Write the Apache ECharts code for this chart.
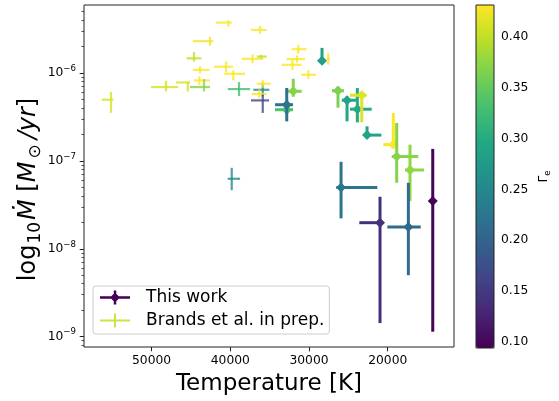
<!DOCTYPE html>
<html>
<head>
<meta charset="utf-8">
<script src="https://cdn.jsdelivr.net/npm/echarts@6/dist/echarts.min.js"></script>
<style>
  html, body { margin: 0; padding: 0; background: #fff; }
  #chart { width: 559px; height: 401px; }
</style>
</head>
<body>
<div id="chart"></div>
<script>
// ---- This work: temperature [K], log10 mass-loss rate [Msun/yr], Eddington factor Gamma_e
const workTemp       = [28350, 32000, 32830, 32830, 26320, 25170, 23860, 23300, 22630, 19290, 18860, 17170, 25930, 20980, 17380, 14280];
const workTempErrCool = [300, 1070, 800, 800, 760, 1230, 1830, 635, 1820, 635, 2745, 1780, 4610, 0, 1575, 150];
const workTempErrHot  = [300, 1000, 1490, 1490, 760, 670, 930, 1490, 100, 1270, 635, 635, 600, 2630, 2670, 150];
const workLogMdot    = [-5.860, -6.207, -6.417, -6.360, -6.201, -6.309, -6.411, -6.252, -6.706, -6.814, -6.950, -7.103, -7.302, -7.703, -7.753, -7.457];
const workLogErrLow  = [0.025, 0.062, 0.04, 0.19, 0.193, 0.24, 0.15, 0.309, 0.028, 0.038, 0.299, 0.354, 0.352, 1.143, 0.548, 1.487];
const workLogErrHigh = [0.147, 0.142, 0.04, 0.19, 0.049, 0.043, 0.241, 0.02, 0.10, 0.36, 0.382, 0.289, 0.292, 0.295, 0.504, 0.594];
const workGamma      = [0.285, 0.37, 0.335, 0.222, 0.365, 0.29, 0.30, 0.415, 0.29, 0.43, 0.37, 0.375, 0.225, 0.14, 0.21, 0.097];

// ---- Brands et al. (in prep.)
const brandsTemp       = [40250, 36230, 42580, 44610, 40550, 43850, 39620, 37180, 36100, 43940, 43340, 48170, 45410, 55160, 38890, 35880, 35880, 36320, 35880, 39820, 31360, 31530, 32100, 30090, 27550];
const brandsTempErrCool = [430, 850, 420, 950, 890, 1180, 1490, 1370, 730, 1360, 760, 1560, 290, 290, 1400, 840, 1020, 940, 800, 1060, 1065, 1020, 1160, 970, 200];
const brandsTempErrHot  = [1560, 1140, 2200, 950, 1525, 930, 1140, 1370, 540, 675, 1780, 1905, 1490, 1180, 1435, 1195, 760, 965, 1495, 510, 840, 1310, 1380, 935, 200];
const brandsLogMdot    = [-5.426, -5.508, -5.637, -5.832, -5.928, -5.963, -6.008, -5.838, -5.812, -6.084, -6.159, -6.159, -6.107, -6.303, -6.182, -6.190, -6.121, -6.238, -6.311, -7.203, -5.728, -5.841, -5.906, -6.019, -5.838];
const brandsLogErrLow  = [0.045, 0.046, 0.05, 0.036, 0.065, 0.04, 0.076, 0.05, 0.02, 0.05, 0.05, 0.05, 0.103, 0.15, 0.08, 0.075, 0.045, 0.05, 0.143, 0.13, 0.05, 0.04, 0.06, 0.05, 0.065];
const brandsLogErrHigh = [0.03, 0.046, 0.05, 0.07, 0.06, 0.04, 0.04, 0.05, 0.02, 0.045, 0.09, 0.07, 0.01, 0.09, 0.08, 0.075, 0.045, 0.05, 0.065, 0.125, 0.05, 0.04, 0.06, 0.05, 0.065];
const brandsGamma      = [0.43, 0.43, 0.425, 0.40, 0.43, 0.43, 0.43, 0.43, 0.40, 0.43, 0.37, 0.41, 0.41, 0.41, 0.33, 0.26, 0.43, 0.43, 0.165, 0.255, 0.43, 0.43, 0.43, 0.43, 0.43];

// ---- axes and colour bar
const tempTicks = [20000, 30000, 40000, 50000];
const logMajorTicks = [-9, -8, -7, -6];
const gammaTicks = [0.10, 0.15, 0.20, 0.25, 0.30, 0.35, 0.40];
const tempRange = [11580, 58590];
const logRange = [-9.118, -5.225];
const gammaRange = [0.0935, 0.4318];
const viridis = ['#440154', '#482475', '#414487', '#355f8d', '#2a788e', '#21918c',
                 '#22a884', '#44bf70', '#7ad151', '#bddf26', '#fde725'];

// minor ticks of a base-10 log axis (2..9 x 10^n)
const logMinorTicks = [];
for (let n = -10; n <= -6; n++) {
  for (let k = 2; k <= 9; k++) {
    const v = n + Math.log10(k);
    if (v > logRange[0] && v < logRange[1]) logMinorTicks.push(v);
  }
}

function rows(temp, cool, hot, logm, lo, hi, gamma) {
  return temp.map((t, i) => [t, logm[i], cool[i], hot[i], lo[i], hi[i], gamma[i]]);
}

function errorbarRenderer(lineWidth, opacity, markerSize) {
  return function (params, api) {
    const t = api.value(0), l = api.value(1);
    const c = api.coord([t, l]);
    const xHot = api.coord([t + api.value(3), l])[0];
    const xCool = api.coord([t - api.value(2), l])[0];
    const yTop = api.coord([t, l + api.value(5)])[1];
    const yBot = api.coord([t, l - api.value(4)])[1];
    const color = api.visual('color');
    const ls = { stroke: color, lineWidth: lineWidth, opacity: opacity, lineCap: 'butt' };
    const children = [
      { type: 'line', shape: { x1: xHot, y1: c[1], x2: xCool, y2: c[1] }, style: ls },
      { type: 'line', shape: { x1: c[0], y1: yTop, x2: c[0], y2: yBot }, style: ls }
    ];
    if (markerSize) {
      const r = markerSize / 2;
      children.push({
        type: 'polygon',
        shape: { points: [[c[0], c[1] - r], [c[0] + r, c[1]], [c[0], c[1] + r], [c[0] - r, c[1]]] },
        style: { fill: color }
      });
    }
    return { type: 'group', children: children };
  };
}

const FONT = 'DejaVu Sans';
const chart = echarts.init(document.getElementById('chart'), null, { renderer: 'canvas' });

chart.setOption({
  animation: false,
  backgroundColor: '#fff',
  textStyle: { fontFamily: FONT },
  grid: [
    { left: 84, top: 5, width: 370, height: 343, show: true, borderColor: '#222', borderWidth: 1, backgroundColor: 'transparent' },
    { left: 476, top: 5, width: 18, height: 343, show: true, borderColor: '#222', borderWidth: 1, backgroundColor: 'transparent', z: 10 }
  ],
  xAxis: [
    {
      type: 'value', gridIndex: 0, inverse: true, min: tempRange[0], max: tempRange[1],
      axisLine: { show: false }, splitLine: { show: false },
      axisTick: { show: true, length: 4.3, lineStyle: { color: '#222', width: 1 }, customValues: tempTicks },
      axisLabel: { customValues: tempTicks, formatter: v => String(v), fontSize: 12.3, color: '#000', fontFamily: FONT, margin: 8 },
      name: 'Temperature [K]', nameLocation: 'middle', nameGap: 26, nameMoveOverlap: false,
      nameTextStyle: { fontSize: 23, color: '#000', fontFamily: FONT }
    },
    { type: 'value', gridIndex: 1, show: false, min: 0, max: 1 }
  ],
  yAxis: [
    {
      type: 'value', gridIndex: 0, position: 'left', min: logRange[0], max: logRange[1],
      axisLine: { show: false }, splitLine: { show: false },
      axisTick: { show: true, length: 4.3, lineStyle: { color: '#222', width: 1 }, customValues: logMajorTicks },
      axisLabel: {
        customValues: logMajorTicks, margin: 8, color: '#000',
        formatter: v => '{b|10}{s|\u2212' + Math.round(-v) + '}',
        rich: {
          b: { fontSize: 12.3, fontFamily: FONT, color: '#000', lineHeight: 18 },
          s: { fontSize: 8.6, fontFamily: FONT, color: '#000', lineHeight: 10, verticalAlign: 'top' }
        }
      },
      name: '{r|log}{s|10}{i|\u1E40}  {r|[}{i|M}{o|\u2299}{i|/yr}{r|]}',
      nameLocation: 'middle', nameRotate: 90, nameGap: 40, nameMoveOverlap: false,
      nameTextStyle: {
        padding: [0, 27, 0, 0],
        rich: {
          r: { fontSize: 24, fontFamily: FONT, color: '#000', lineHeight: 30 },
          i: { fontSize: 24, fontFamily: FONT, fontStyle: 'italic', color: '#000', lineHeight: 30 },
          s: { fontSize: 17, fontFamily: FONT, color: '#000', lineHeight: 17, verticalAlign: 'bottom', padding: [0, 2, 0, 1] },
          o: { fontSize: 17, fontFamily: FONT, color: '#000', lineHeight: 17, verticalAlign: 'bottom', padding: [0, 5, 0, 3] }
        }
      }
    },
    {
      type: 'value', gridIndex: 0, position: 'left', min: logRange[0], max: logRange[1],
      axisLine: { show: false }, splitLine: { show: false }, axisLabel: { show: false },
      axisTick: { show: true, length: 2.5, lineStyle: { color: '#222', width: 0.8 }, customValues: logMinorTicks }
    },
    {
      type: 'value', gridIndex: 1, position: 'right', min: gammaRange[0], max: gammaRange[1],
      axisLine: { show: false }, splitLine: { show: false },
      axisTick: { show: true, length: 4.3, lineStyle: { color: '#222', width: 1 }, customValues: gammaTicks },
      axisLabel: { customValues: gammaTicks, formatter: v => v.toFixed(2), fontSize: 12.3, color: '#000', fontFamily: FONT, margin: 7 },
      name: '{g|\u0393}{e|e}', nameLocation: 'middle', nameRotate: 90, nameGap: 42,
      nameTextStyle: {
        rich: {
          g: { fontSize: 12.3, fontFamily: FONT, color: '#000', lineHeight: 16 },
          e: { fontSize: 8.6, fontFamily: FONT, color: '#000', lineHeight: 9, verticalAlign: 'bottom' }
        }
      }
    }
  ],
  visualMap: {
    type: 'continuous', min: gammaRange[0], max: gammaRange[1], dimension: 6,
    seriesIndex: [0, 1], inRange: { color: viridis },
    calculable: false, orient: 'vertical', left: 476, top: 5,
    itemWidth: 18, itemHeight: 343, padding: 0, text: null, hoverLink: false
  },
  legend: {
    orient: 'vertical', left: 93, top: 286,
    padding: [3, 5, 5, 7], itemGap: 6, itemWidth: 30, itemHeight: 14,
    backgroundColor: 'rgba(255,255,255,0.8)', borderColor: '#cccccc', borderWidth: 1, borderRadius: 3,
    selectedMode: false,
    textStyle: { fontSize: 17, fontFamily: FONT, color: '#000', padding: [0, 0, 0, 11] },
    data: [
      { name: 'This work', icon: 'path://M0 5.75H30V8.25H0Z M13.75 0H16.25V14H13.75Z M15 2L20 7L15 12L10 7Z', itemStyle: { color: '#440154' } },
      { name: 'Brands et al. in prep.', icon: 'path://M0 6H30V8H0Z M14 0H16V14H14Z', itemStyle: { color: '#c0df25', opacity: 0.85 } }
    ]
  },
  series: [
    {
      name: 'Brands et al. in prep.', type: 'custom', xAxisIndex: 0, yAxisIndex: 0,
      renderItem: errorbarRenderer(2.2, 0.8, 0),
      encode: { x: 0, y: 1 },
      data: rows(brandsTemp, brandsTempErrCool, brandsTempErrHot, brandsLogMdot, brandsLogErrLow, brandsLogErrHigh, brandsGamma)
    },
    {
      name: 'This work', type: 'custom', xAxisIndex: 0, yAxisIndex: 0,
      renderItem: errorbarRenderer(3, 1, 10),
      encode: { x: 0, y: 1 },
      data: rows(workTemp, workTempErrCool, workTempErrHot, workLogMdot, workLogErrLow, workLogErrHigh, workGamma)
    }
  ]
});
</script>
</body>
</html>
